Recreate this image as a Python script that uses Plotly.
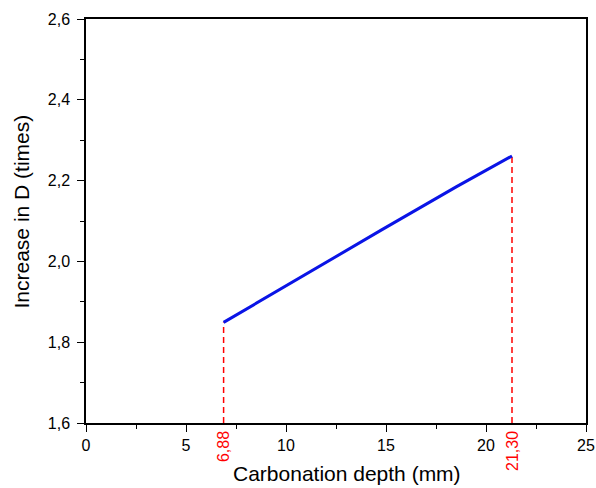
import plotly.graph_objects as go

# Data
depth_mm = [6.88, 11.03, 14.78, 18.53, 21.30]
increase_d = [1.849, 1.970, 2.078, 2.185, 2.261]

marker_x = [6.88, 21.30]
marker_labels = ["6,88", "21,30"]
y_base = 1.6

x_ticks = [0, 5, 10, 15, 20, 25]
y_ticks = [1.6, 1.8, 2.0, 2.2, 2.4, 2.6]

fig = go.Figure()

# red dashed drop lines
for mx in marker_x:
    my = increase_d[0] if mx == depth_mm[0] else increase_d[-1]
    fig.add_trace(go.Scatter(
        x=[mx, mx], y=[y_base, my], mode="lines",
        line=dict(color="#FF0000", width=1.5, dash="6px,4px"),
        showlegend=False, hoverinfo="skip"))

fig.add_trace(go.Scatter(
    x=depth_mm, y=increase_d, mode="lines",
    line=dict(color="#0A14E6", width=3),
    showlegend=False))

for mx, lab in zip(marker_x, marker_labels):
    fig.add_annotation(
        x=mx, y=y_base, xref="x", yref="y", text=lab, showarrow=False,
        textangle=-90, xanchor="center", yanchor="top", yshift=-6,
        font=dict(family="Liberation Sans, Arial", size=16, color="#FF0000"))

axis_common = dict(
    showline=True, linecolor="black", linewidth=1.5, mirror=True,
    ticks="outside", ticklen=7, tickwidth=1.3, tickcolor="black",
    showgrid=False, zeroline=False,
    tickfont=dict(family="Liberation Sans, Arial", size=16, color="black"),
)

fig.update_xaxes(
    range=[0, 25], tickvals=x_ticks,
    minor=dict(ticks="outside", ticklen=4, dtick=2.5, tickcolor="black", tickwidth=1.3),
    **axis_common)
fig.update_yaxes(
    range=[1.6, 2.6], tickvals=y_ticks, tickformat=".1f",
    minor=dict(ticks="outside", ticklen=4, dtick=0.1, tickcolor="black", tickwidth=1.3),
    ticklabelstandoff=4,
    **axis_common)

# axis titles (placed as annotations to match the reference offsets)
fig.add_annotation(
    x=(347 - 86) / 500, y=-(474 - 423) / 404, xref="paper", yref="paper",
    text="Carbonation depth (mm)", showarrow=False,
    xanchor="center", yanchor="middle",
    font=dict(family="Liberation Sans, Arial", size=21, color="black"))
fig.add_annotation(
    x=-(86 - 21) / 500, y=(423 - 211.5) / 404, xref="paper", yref="paper",
    text="Increase in D (times)", textangle=-90, showarrow=False,
    xanchor="center", yanchor="middle",
    font=dict(family="Liberation Sans, Arial", size=21, color="black"))

fig.update_layout(
    width=596, height=488,
    margin=dict(l=86, r=10, t=19, b=65, autoexpand=False),
    plot_bgcolor="white", paper_bgcolor="white",
    separators=", ",
)

# remove the default page body margin so the figure fills the window exactly
fig.write_html(
    "out.html",
    config={"displayModeBar": False},
    post_script="document.body.style.margin='0';document.body.style.overflow='hidden';",
)
